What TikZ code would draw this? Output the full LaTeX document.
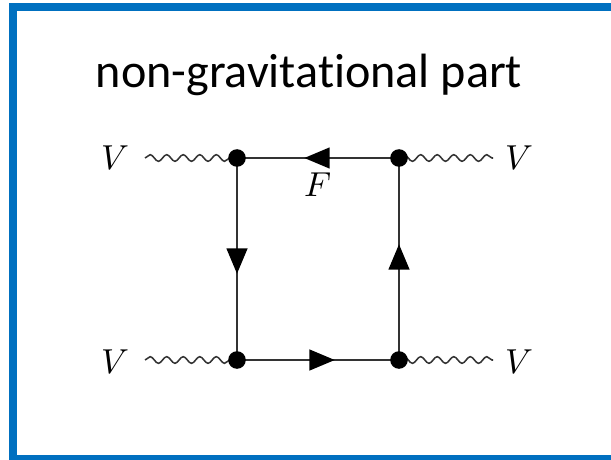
\documentclass[tikz,border=0pt]{standalone}
\usepackage{fontspec}
\setmainfont[Ligatures={NoCommon,NoRequired,NoContextual}]{Carlito}
\usepackage{unicode-math}
\setmathfont{Latin Modern Math}
\usetikzlibrary{decorations.pathmorphing,decorations.markings,arrows.meta}
\definecolor{frameblue}{HTML}{0070C0}
\definecolor{linegray}{HTML}{333333}
\tikzset{
  x=0.75pt,y=-0.75pt,
  vertexdot/.style={circle,fill=black,inner sep=0pt,minimum size=13.2pt},
  fermion/.style={draw=linegray,line width=1.5pt},
  boson/.style={draw=linegray,line width=1.15pt,decorate,decoration={snake,amplitude=2.5pt,segment length=12.4pt}},
  vlabel/.style={font=\fontsize{26}{26}\selectfont,inner sep=0pt},
  titletext/.style={font=\fontsize{36.1}{37}\selectfont,inner sep=0pt,text=black},
  farrow/.style={postaction={decorate,decoration={markings,mark=at position #1 with {\fill[black] (9.5pt,0)--(-9.5pt,8pt)--(-9.5pt,-8pt)--cycle;}}}}
}
\begin{document}
\begin{tikzpicture}
\useasboundingbox (0,0) rectangle (611,460);
\fill[white] (0,0) rectangle (611,460);
\fill[frameblue] (8.5,3) rectangle (611,460);
\fill[white] (16.5,11) rectangle (611,455);
\node[titletext] (title) at (309,75) {non-gravitational part};
\coordinate (a) at (237,158);
\coordinate (b) at (399,158);
\coordinate (c) at (237,360);
\coordinate (d) at (399,360);
\node[vlabel] (v1) at (115,158) {$V$};
\node[vlabel] (v2) at (519,158) {$V$};
\node[vlabel] (v3) at (115,362) {$V$};
\node[vlabel] (v4) at (519,362) {$V$};
\node[vlabel] (f) at (318,185) {$F$};
\coordinate (w1) at (145,158);
\coordinate (w2) at (493,158);
\coordinate (w3) at (145,360);
\coordinate (w4) at (493,360);
\draw[boson] (w1) -- (a);
\draw[boson] (b) -- (w2);
\draw[boson] (w3) -- (c);
\draw[boson] (d) -- (w4);
\draw[fermion,farrow=0.506] (b) -- (a);
\draw[fermion,farrow=0.51] (a) -- (c);
\draw[fermion,farrow=0.525] (c) -- (d);
\draw[fermion,farrow=0.51] (d) -- (b);
\node[vertexdot] (na) at (a) {};
\node[vertexdot] (nb) at (b) {};
\node[vertexdot] (nc) at (c) {};
\node[vertexdot] (nd) at (d) {};
\end{tikzpicture}
\end{document}
